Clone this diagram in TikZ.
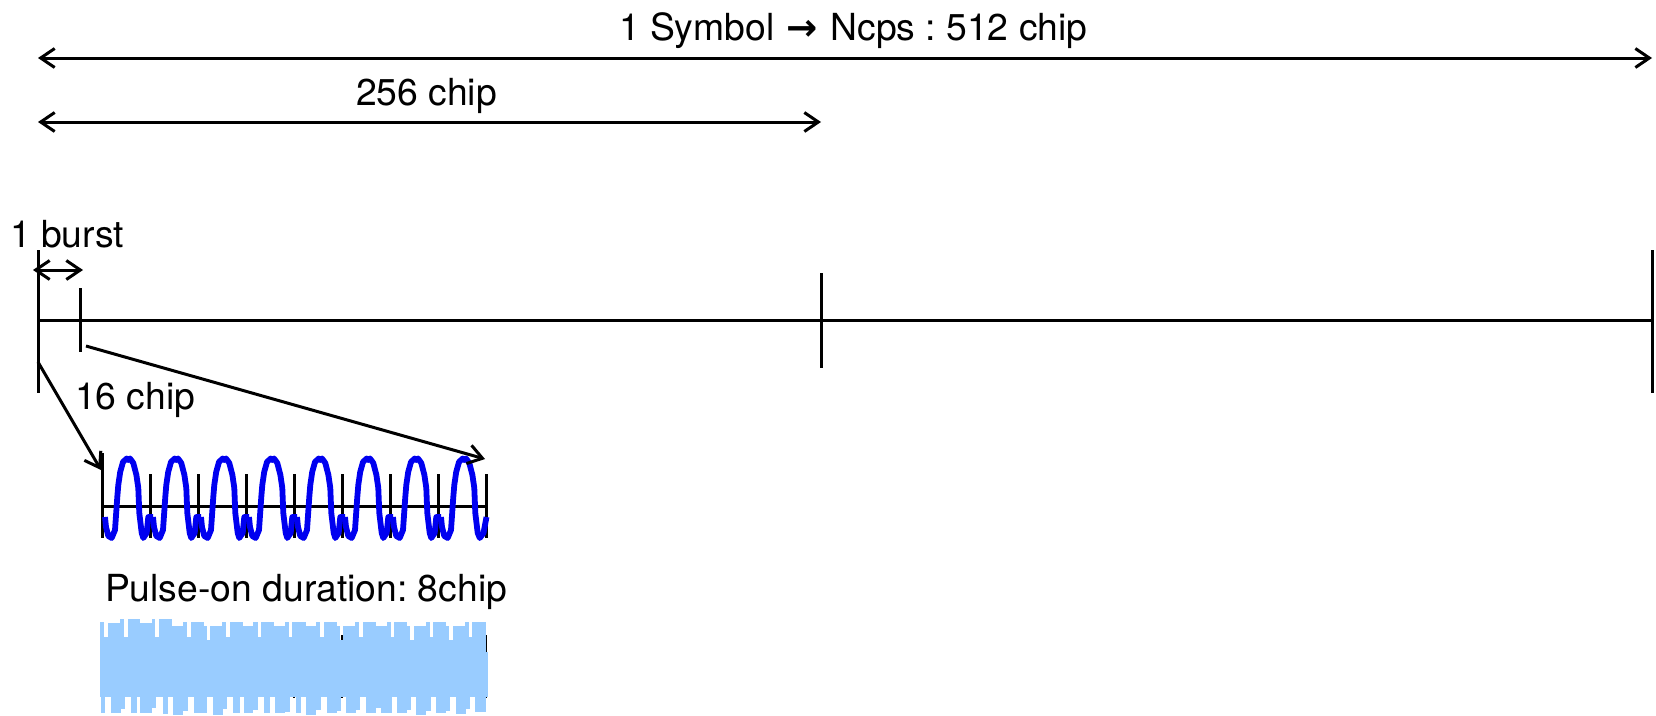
\documentclass[tikz,border=0pt]{standalone}
\usepackage{fontspec}
\setmainfont{TeX Gyre Heros}
\newfontfamily\arrowfont{DejaVu Sans}
\usetikzlibrary{arrows.meta}
\definecolor{pulseblue}{RGB}{0,0,240}
\definecolor{noiseblue}{RGB}{153,204,255}
\tikzset{
  every node/.style={inner sep=0pt,outer sep=0pt,font=\fontsize{37.3}{40}\selectfont\frenchspacing,anchor=base west},
  rule/.style={line width=3pt,black},
  dim/.style={rule,{Straight Barb[length=14pt,width=19pt,line width=3pt]}-{Straight Barb[length=14pt,width=19pt,line width=3pt]}},
  lead/.style={rule,-{Straight Barb[length=14pt,width=19pt,line width=3pt]}},
  pulse/.style={line width=5.8pt,pulseblue,line join=round},
  noise/.style={fill=noiseblue,draw=none}
}
\begin{document}
\begin{tikzpicture}[x=1pt,y=-1pt]
\useasboundingbox (0,0) rectangle (1656,715);
% labels
\node (sym) at (619,40) {1 Symbol \kern2pt{\arrowfont\bfseries →}\kern2pt\ Ncps : 512 chip};
\node (half) at (356,105) {256 chip};
\node (burst) at (10,247) {1 burst};
\node (sixteen) at (75,409) {16 chip};
\node (pulseon) at (105,601) {Pulse-on duration: 8chip};
% coordinates
\coordinate (A0) at (38,320); \coordinate (A1) at (80,320);
\coordinate (A2) at (821,320); \coordinate (A3) at (1652,320);
\coordinate (D1a) at (38,58); \coordinate (D1b) at (1652,58);
\coordinate (D2a) at (38,122); \coordinate (D2b) at (821,122);
\coordinate (D3a) at (33,270); \coordinate (D3b) at (83,270);
\coordinate (L1a) at (38,362); \coordinate (L1b) at (101,470);
\coordinate (L2a) at (86,346); \coordinate (L2b) at (485,459);
\coordinate (S0) at (102,506); \coordinate (S1) at (486,506);
% dimension arrows
\draw[dim] (D1a) -- (D1b);
\draw[dim] (D2a) -- (D2b);
\draw[dim] (D3a) -- (D3b);
% main axis
\draw[rule] (A0) -- (A3);
\draw[rule] (38,250) -- (38,393);
\draw[rule] (80,288) -- (80,352);
\draw[rule] (821,273) -- (821,368);
\draw[rule] (1652,250) -- (1652,393);
% small axis
\draw[rule] (S0) -- (S1);
\draw[rule] (102,453) -- (102,538);
\foreach \k in {1,...,8} \draw[rule] ({102+48*\k},474) -- ({102+48*\k},538);
% waveform
\foreach \k in {0,...,6}{
  \begin{scope}[xshift=\k*48pt+102pt]
  \draw[pulse] (3,517) -- (4,527) -- (6.3,536) -- (9.7,538) -- (13,530) -- (15.3,497) -- (16.3,485) -- (18.2,472) -- (21,462) -- (24.7,458.5) -- (26.3,460) -- (28,458.5) -- (31.3,463) -- (34.4,475) -- (36.3,488) -- (37.3,513) -- (39.7,533) -- (41.3,538) -- (44.7,533) -- (46.3,517) -- (51,517);
  \end{scope}
}
\begin{scope}[xshift=438pt]
  \draw[pulse] (3,517) -- (4,527) -- (6.3,536) -- (9.7,538) -- (13,530) -- (15.3,497) -- (16.3,485) -- (18.2,472) -- (21,462) -- (24.7,458.5) -- (26.3,460) -- (28,458.5) -- (31.3,463) -- (34.4,475) -- (36.3,488) -- (37.3,513) -- (39.7,533) -- (41.8,538) -- (45.5,533) -- (48.5,517);
\end{scope}
\draw[lead] (L1a) -- (L1b);
\draw[lead] (L2a) -- (L2b);
% spread signal: black ticks beneath the light blue
\foreach \k in {1,...,8} \draw[line width=1.8pt] ({102+48*\k},635) -- ({102+48*\k},698);
\fill[noise] (100,640) rectangle (486,697);
\fill[noise] (486,652) rectangle (487.5,697);
\foreach \a/\b/\t in {100/104/622,108/120/623,120/124/619,128/140/619,140/152/622.5,152/155/619,159/172/619,172/183/626,183/187/622,191/204/622,204/207/626,210/222/626,222/226/622,230/243/622,243/253/626,253/258/622,261/274/622,274/285/626,285/289/622,292/306/622,306/316/626,316/320/622,324/337/622,337/340/626,343/355/626,355/359/622,363/376/622,376/387/626,387/391/622,394/407/622,407/410/626,414/426/626,426/430/622,433/446/622,446/449/626,453/465/626,465/469/622,472/486/622}
  \fill[noise] (\a,\t) rectangle (\b,641);
\foreach \a/\b in {104/108,124/128,155/159,187/191,226/230,258/261,289/292,320/324,359/363,391/394,430/433,469/472}
  \fill[noise] (\a,637) rectangle (\b,641);
\foreach \a/\b/\t in {101/105/713,111/121/713,121/125/709,131/137/713,140/152/713,152/156/708,163/168/714,173/183/715,183/188/711,194/207/713,213/223/715,223/227/709,233/240/713,244/253/713,253/258/710,264/270/713,275/285/713,285/290/712,296/301/713,306/316/715,316/321/710,327/337/713,337/341/711,346/356/713,356/360/710,366/376/713,376/381/708,381/392/713,397/407/713,407/411/710,416/426/715,426/431/711,436/446/713,446/450/711,456/466/714,466/470/709,475/486/712}
  \fill[noise] (\a,696) rectangle (\b,\t);
\end{tikzpicture}
\end{document}
